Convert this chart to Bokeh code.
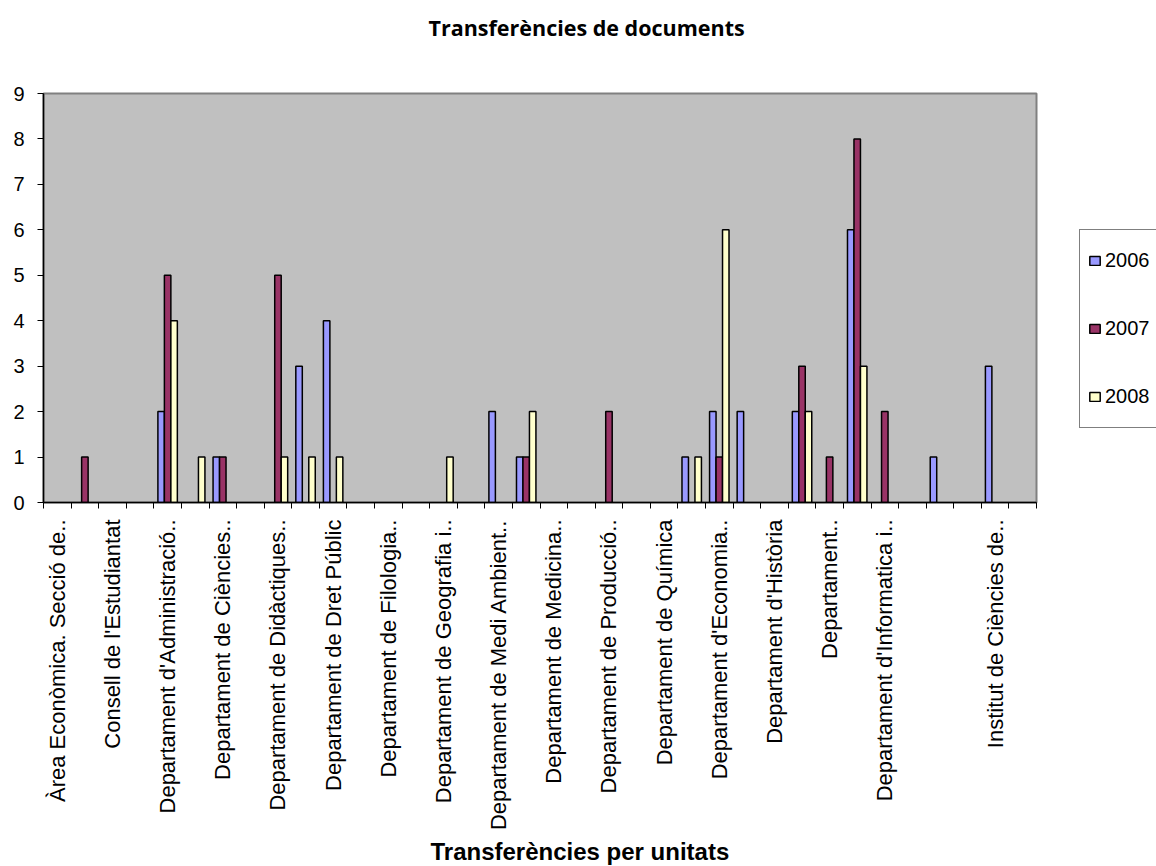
import math
from bokeh.plotting import figure
from bokeh.layouts import row
from bokeh.models import (ColumnDataSource, FixedTicker, Range1d, Legend, LegendItem, Title)
from bokeh.embed import file_html
from bokeh.resources import INLINE

# ---- data ----
n_categories = 36
tick_positions = [0, 2, 4, 6, 8, 10, 12, 14, 16, 18, 20, 22, 24, 26, 28, 30, 32, 34]
tick_labels = [
    "Àrea Econòmica. Secció de..",
    "Consell de l'Estudiantat",
    "Departament d'Administració..",
    "Departament de Ciències..",
    "Departament de Didàctiques..",
    "Departament de Dret Públic",
    "Departament de Filologia..",
    "Departament de Geografia i..",
    "Departament de Medi Ambient..",
    "Departament de Medicina..",
    "Departament de Producció..",
    "Departament de Química",
    "Departament d'Economia..",
    "Departament d'Història",
    "Departament..",
    "Departament d'Informatica i..",
    "",
    "Institut de Ciències de..",
]
series_names = ["2006", "2007", "2008"]
v2006 = [0, 0, 0, 0, 2, 0, 1, 0, 0, 3, 4, 0, 0, 0, 0, 0, 2, 1, 0, 0, 0, 0, 0, 1, 2, 2, 0, 2, 0, 6, 0, 0, 1, 0, 3, 0]
v2007 = [0, 1, 0, 0, 5, 0, 1, 0, 5, 0, 0, 0, 0, 0, 0, 0, 0, 1, 0, 0, 2, 0, 0, 0, 1, 0, 0, 3, 1, 8, 2, 0, 0, 0, 0, 0]
v2008 = [0, 0, 0, 0, 4, 1, 0, 0, 1, 1, 1, 0, 0, 0, 1, 0, 0, 2, 0, 0, 0, 0, 0, 1, 6, 0, 0, 2, 0, 3, 0, 0, 0, 0, 0, 0]
colors = ["#9999FF", "#993366", "#FFFFCC"]

H = 866
p = figure(width=1046, height=H, output_backend="svg", toolbar_location=None,
           x_range=Range1d(-0.5, n_categories - 0.5), y_range=Range1d(0, 9),
           min_border_left=43, min_border_right=10, min_border_top=93, min_border_bottom=364,
           border_fill_color="white")
p.background_fill_color = "#C0C0C0"
p.outline_line_color = "#808080"
p.outline_line_width = 2
p.grid.visible = False

# legend panel figure (frames of a row are aligned vertically with the main plot)
lf = figure(width=110, height=H, output_backend="svg", toolbar_location=None,
            x_range=Range1d(0, 1), y_range=Range1d(0, 1),
            x_axis_type=None, y_axis_type=None,
            min_border_left=0, min_border_right=0, min_border_top=93, min_border_bottom=364)
lf.outline_line_color = None
lf.grid.visible = False
lf.background_fill_color = "white"
lf.border_fill_color = "white"

bar_w = 0.235
offsets = [-bar_w, 0.0, bar_w]
legend_items = []
for name, vals, off, col in zip(series_names, [v2006, v2007, v2008], offsets, colors):
    xs = [i + off for i, v in enumerate(vals) if v > 0]
    ys = [v for v in vals if v > 0]
    src = ColumnDataSource(dict(x=xs, top=ys))
    p.vbar(x="x", top="top", width=bar_w, bottom=0, source=src,
           fill_color=col, line_color="black", line_width=1.5)
    # hidden proxy sharing the same source, only used for the legend swatch
    proxy = lf.vbar(x="x", top="top", width=bar_w, bottom=0, source=src,
                    fill_color=col, line_color="black", line_width=1.5, visible=False)
    legend_items.append(LegendItem(label=name, renderers=[proxy]))

# y axis
yax = p.yaxis[0]
yax.ticker = FixedTicker(ticks=list(range(0, 10)))
yax.major_label_text_font = "Liberation Sans"
yax.major_label_text_font_size = "20px"
yax.major_label_text_color = "black"
yax.major_tick_in = 0
yax.major_tick_out = 6
yax.minor_tick_line_color = None
yax.major_label_standoff = 13
yax.axis_line_color = "black"
yax.axis_line_width = 1.5
yax.major_tick_line_color = "black"

# x axis
xax = p.xaxis[0]
xax.ticker = FixedTicker(ticks=tick_positions,
                         minor_ticks=[i - 0.5 for i in range(n_categories + 1)])
xax.major_label_overrides = {t: lab for t, lab in zip(tick_positions, tick_labels)}
xax.major_label_orientation = math.pi / 2
xax.major_label_text_font = "Liberation Sans"
xax.major_label_text_font_size = "22px"
xax.major_label_text_color = "black"
xax.major_tick_in = 0
xax.major_tick_out = 0
xax.minor_tick_in = 0
xax.minor_tick_out = 6
xax.minor_tick_line_color = "black"
xax.major_label_standoff = 11
xax.axis_line_color = "black"
xax.axis_line_width = 1.5

# titles (spacer first = closest to the frame)
p.add_layout(Title(text=" ", text_font_size="10px", standoff=34), "above")
p.add_layout(Title(text="Transferències de documents", align="left", offset=385,
                   text_font="Open Sans", text_font_style="bold", text_font_size="21.5px",
                   text_color="black", standoff=10), "above")
p.add_layout(Title(text="Transferències per unitats", align="left", offset=387,
                   text_font="Liberation Sans", text_font_style="bold", text_font_size="24px",
                   text_color="black", standoff=4), "below")

legend = Legend(items=legend_items,
                location=(33, 74), margin=0, padding=8, spacing=23,
                glyph_width=13, glyph_height=11, label_height=45, label_standoff=4,
                label_text_font="Liberation Sans", label_text_font_size="20px",
                label_text_color="black",
                border_line_color="black", border_line_width=1,
                background_fill_color="white", background_fill_alpha=1.0)
lf.add_layout(legend, "center")

layout = row(p, lf)
open("out.html", "w").write(file_html(layout, INLINE))
